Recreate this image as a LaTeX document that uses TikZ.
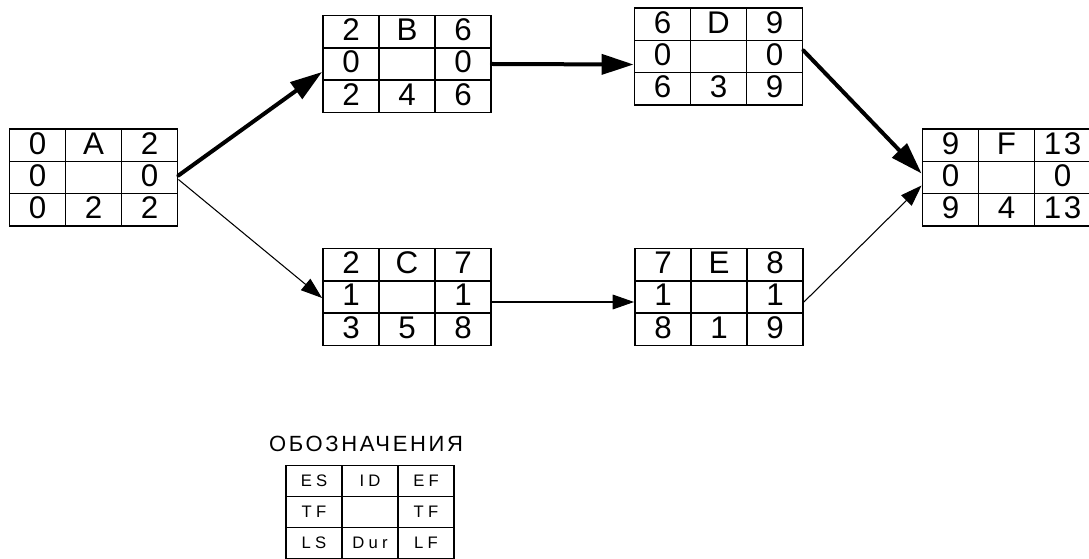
\documentclass[tikz,border=0pt]{standalone}
\usepackage{fontspec}
\setmainfont{Liberation Sans}
\newfontfamily\spaced[LetterSpace=25]{Liberation Sans}
\newfontfamily\titlefont[LetterSpace=12]{Liberation Sans}
\usetikzlibrary{matrix,arrows.meta,calc}
\tikzset{
  cellbox/.style={draw, line width=1pt, minimum width=56*0.75pt, minimum height=32.3*0.75pt,
    inner sep=0pt, anchor=center, text height=13.5pt, text depth=0pt,
    font=\fontsize{23.5}{23.5}\selectfont},
  legcell/.style={draw, line width=1pt, minimum width=56*0.75pt, minimum height=31*0.75pt,
    inner sep=0pt, anchor=center, text height=8.8pt, text depth=0pt,
    font=\spaced\fontsize{12.5}{12.5}\selectfont},
  actbox/.style={matrix of nodes, nodes in empty cells, inner sep=0pt,
    column sep=-1pt, row sep=-1pt, nodes={cellbox}},
  legbox/.style={matrix of nodes, nodes in empty cells, inner sep=0pt,
    column sep=-1pt, row sep=-1pt, nodes={legcell}},
  heavy/.style={line width=3pt, line cap=round, -{Triangle[length=24pt,width=15pt]}},
  light/.style={line width=0.8pt, -{Triangle[length=16pt,width=11pt]}},
  title/.style={font=\titlefont\fontsize{16.5}{16.5}\selectfont, anchor=base, inner sep=0pt}
}
\begin{document}
\begin{tikzpicture}[x=0.75pt,y=-0.75pt]
\useasboundingbox (0,0) rectangle (1089,559);
\matrix (A) [actbox] at (93.5,177.5) { 0 & A & 2 \\ 0 & & 0 \\ 0 & 2 & 2 \\ };
\matrix (B) [actbox] at (407,64) { 2 & B & 6 \\ 0 & & 0 \\ 2 & 4 & 6 \\ };
\matrix (C) [actbox] at (407,297) { 2 & C & 7 \\ 1 & & 1 \\ 3 & 5 & 8 \\ };
\matrix (D) [actbox] at (718.5,56.5) { 6 & D & 9 \\ 0 & & 0 \\ 6 & 3 & 9 \\ };
\matrix (E) [actbox] at (719,297) { 7 & E & 8 \\ 1 & & 1 \\ 8 & 1 & 9 \\ };
\matrix (F) [actbox] at (1006.5,177.5) { 9 & F & 1\kern2pt 3 \\ 0 & & 0 \\ 9 & 4 & 1\kern2pt 3 \\ };
\node[title] (T) at (366,452) {ОБОЗНАЧЕНИЯ};
\matrix (L) [legbox] at (370,512) { ES & ID & EF \\ TF & & TF \\ LS & Dur & LF \\ };
\draw[heavy] ($(A.east)+(0,-2)$) -- ($(B.west)+(0,8)$);
\draw[light] ($(A.east)+(0,2)$) -- ($(C.west)+(0,1)$);
\draw[heavy] ($(B.east)+(0,0)$) -- ($(D.west)+(0,8)$);
\draw[light] ($(C.east)+(0,5)$) -- ($(E.west)+(0,5)$);
\draw[heavy] ($(D.east)+(0,-6)$) -- ($(F.west)+(0,-4)$);
\draw[light] ($(E.east)+(0,5)$) -- ($(F.west)+(0,8)$);
\end{tikzpicture}
\end{document}
